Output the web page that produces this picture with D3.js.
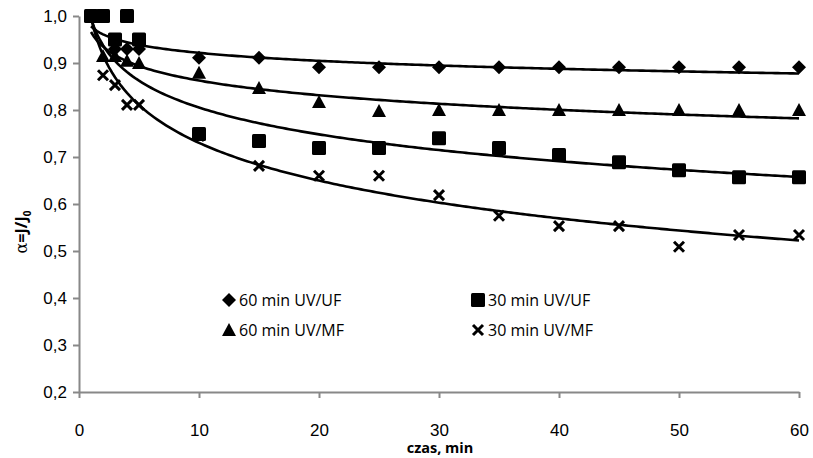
<!DOCTYPE html>
<html>
<head>
<meta charset="utf-8">
<script src="https://cdn.jsdelivr.net/npm/d3@7"></script>
<style>
  body { margin: 0; background: #fff; }
  svg { font-family: "Open Sans", sans-serif; }
  .axis path, .axis line { stroke: #888; stroke-width: 2; }
  .axis text { font-size: 17px; fill: #000; }
  .legend text { font-size: 16px; }
</style>
</head>
<body>
<svg width="813" height="458"></svg>
<script>
// time points, min
var times = [1, 2, 3, 4, 5, 10, 15, 20, 25, 30, 35, 40, 45, 50, 55, 60];

var uf60 = [1.0, 1.0, 0.93, 0.93, 0.93, 0.911, 0.911, 0.891, 0.891, 0.891, 0.891, 0.891, 0.891, 0.891, 0.891, 0.891];
var uf30 = [1.0, 1.0, 0.95, 1.0, 0.95, 0.749, 0.734, 0.719, 0.719, 0.74, 0.719, 0.704, 0.689, 0.672, 0.657, 0.657];
var mf60 = [1.0, 0.915, 0.915, 0.905, 0.9, 0.879, 0.847, 0.817, 0.798, 0.80, 0.80, 0.80, 0.80, 0.80, 0.80, 0.80];
var mf30 = [1.0, 0.874, 0.853, 0.811, 0.811, 0.745, 0.681, 0.66, 0.66, 0.619, 0.575, 0.553, 0.553, 0.509, 0.534, 0.534];

// logarithmic trend lines y = a + b*ln(t), coefficients
var trendA = [0.978, 0.995, 0.966, 0.997];
var trendB = [-0.0245, -0.0824, -0.0449, -0.1159];

var seriesNames = ['60 min UV/UF', '30 min UV/UF', '60 min UV/MF', '30 min UV/MF'];
var xTicks = [0, 10, 20, 30, 40, 50, 60];
var yTicks = [0.2, 0.3, 0.4, 0.5, 0.6, 0.7, 0.8, 0.9, 1.0];

var series = [
  {name: seriesNames[0], values: uf60, shape: 'diamond'},
  {name: seriesNames[1], values: uf30, shape: 'square'},
  {name: seriesNames[2], values: mf60, shape: 'triangle'},
  {name: seriesNames[3], values: mf30, shape: 'cross'}
];

var x = d3.scaleLinear().domain([0, 60]).range([79, 799]);
var y = d3.scaleLinear().domain([0.2, 1.0]).range([392, 16]);

var svg = d3.select('svg');

// **** axes ****
svg.append('g').attr('class', 'axis')
    .attr('transform', 'translate(0,392)')
    .call(d3.axisBottom(x).tickValues(xTicks).tickSize(6).tickSizeOuter(0).tickPadding(26)
        .tickFormat(function(d){ return d; }));

svg.append('text')
    .attr('x', 440).attr('y', 453)
    .attr('text-anchor', 'middle')
    .style('font-size', '14.5px').style('font-weight', 'bold')
    .text('czas, min');

svg.append('g').attr('class', 'axis')
    .attr('transform', 'translate(79,0)')
    .call(d3.axisLeft(y).tickValues(yTicks).tickSize(6).tickSizeOuter(0).tickPadding(6)
        .tickFormat(function(d){ return d3.format('.1f')(d).replace('.', ','); }));

var ylab = svg.append('text')
    .attr('transform', 'translate(27,232) rotate(-90)')
    .attr('text-anchor', 'middle')
    .style('font-size', '16px').style('font-weight', 'bold');
ylab.append('tspan').style('font-family', 'DejaVu Serif, serif').style('font-weight', 'normal').text('α');
ylab.append('tspan').text('=J/J');
ylab.append('tspan').attr('dy', 4).style('font-size', '10px').text('0');

// **** trend lines ****
var line = d3.line()
    .x(function(d){ return x(d[0]); })
    .y(function(d){ return y(d[1]); });

var fitX = d3.range(1, 60.01, 0.25);

series.forEach(function(s, k){
  svg.append('path')
      .attr('d', line(fitX.map(function(t){ return [t, trendA[k] + trendB[k] * Math.log(t)]; })))
      .attr('fill', 'none')
      .attr('stroke', '#000')
      .attr('stroke-width', 2.6);
});

// **** markers ****
function marker(sel, shape) {
  if (shape === 'diamond') {
    sel.append('path').attr('d', 'M0,-7L7,0L0,7L-7,0Z').attr('fill', '#000');
  } else if (shape === 'square') {
    sel.append('rect').attr('x', -7).attr('y', -7).attr('width', 14).attr('height', 14)
        .attr('rx', 1.5).attr('fill', '#000');
  } else if (shape === 'triangle') {
    sel.append('path').attr('d', 'M0,-7L7,6L-7,6Z').attr('fill', '#000');
  } else {
    sel.append('path').attr('d', 'M-5,-5L5,5M-5,5L5,-5')
        .attr('stroke', '#000').attr('stroke-width', 3).attr('fill', 'none');
  }
}

series.forEach(function(s){
  svg.append('g').selectAll('g')
      .data(s.values)
      .enter()
      .append('g')
      .attr('transform', function(d, i){ return 'translate(' + x(times[i]) + ',' + y(d) + ')'; })
      .each(function(){ marker(d3.select(this), s.shape); });
});

// **** legend ****
var legendPos = [[229, 300], [478, 300], [229, 330], [478, 330]];
var legend = svg.append('g').attr('class', 'legend');
series.forEach(function(s, i){
  var g = legend.append('g').attr('transform', 'translate(' + legendPos[i][0] + ',' + legendPos[i][1] + ')');
  marker(g, s.shape);
  g.append('text').attr('x', 10).attr('y', 6).text(s.name);
});
</script>
</body>
</html>
